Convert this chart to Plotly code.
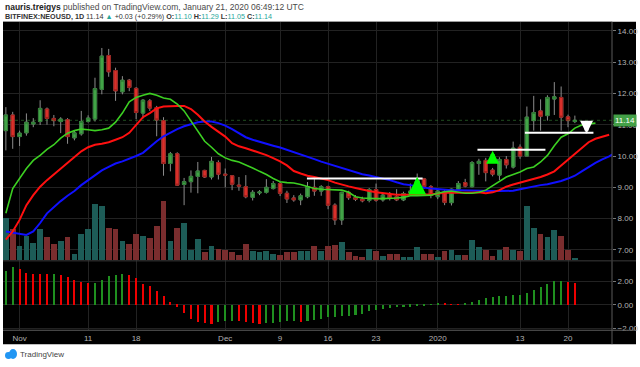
import plotly.graph_objects as go
import pandas as pd

W, H = 640, 367
def px(x): return x / W
def py(y): return 1 - y / H

# ---------------- data ----------------
start = "2019-10-30"
opens = [10.81, 11.31, 10.62, 10.74, 11.02, 11.10, 11.50, 11.20, 11.10, 11.16, 10.58, 10.71, 11.10, 11.18, 12.13,
         13.21, 12.73, 12.05, 12.42, 12.16, 11.37, 11.76, 11.55, 11.13, 9.76, 10.07, 9.09, 9.18, 9.35, 9.54,
         9.33, 9.79, 9.42, 9.37, 9.07, 9.02, 8.68, 8.82, 8.84, 8.96, 9.12, 8.81, 8.66, 8.60, 8.70,
         9.00, 8.88, 9.02, 8.43, 7.96, 8.84, 8.67, 8.62, 8.58, 8.93, 8.60, 8.77, 8.70, 8.60,
         8.83, 8.88, 9.27, 9.02, 8.70, 8.86, 8.51, 8.94, 9.15, 9.02, 9.76, 9.86, 9.55, 9.39, 9.89,
         9.65, 10.28, 10.00, 11.13, 11.44, 11.29, 11.82, 11.87, 11.25, 11.10]
highs = [11.56, 11.41, 10.81, 11.36, 11.21, 11.78, 11.55, 11.31, 11.24, 11.21, 10.81, 11.44, 11.30, 12.50, 13.45,
         13.42, 12.82, 12.55, 12.46, 12.20, 11.82, 11.82, 11.60, 11.24, 10.13, 10.12, 9.30, 9.54, 9.81, 9.56,
         9.97, 9.86, 9.60, 9.39, 9.33, 9.39, 8.91, 8.91, 9.26, 9.20, 9.17, 8.89, 8.75, 8.80, 9.17,
         9.26, 9.07, 9.05, 8.49, 8.86, 8.89, 8.75, 8.70, 8.98, 9.12, 8.82, 8.85, 8.94, 8.86,
         9.12, 9.44, 9.30, 9.07, 8.95, 8.91, 8.96, 9.20, 9.27, 9.84, 9.91, 9.94, 9.62, 9.96, 10.00,
         10.46, 10.37, 11.58, 11.92, 11.81, 11.94, 12.36, 12.22, 11.32, 11.29]
lows = [10.18, 10.23, 10.32, 10.65, 10.92, 10.99, 11.00, 10.95, 10.73, 10.39, 10.50, 10.65, 11.07, 11.10, 11.97,
        12.53, 11.76, 11.97, 12.07, 11.18, 11.20, 11.44, 10.63, 9.37, 9.51, 9.05, 8.43, 8.83, 8.81, 9.30,
        9.25, 9.25, 9.00, 8.91, 8.89, 8.65, 8.58, 8.75, 8.80, 8.93, 8.72, 8.50, 8.54, 8.43, 8.65,
        8.73, 8.73, 8.30, 7.80, 7.80, 8.60, 8.56, 8.52, 8.52, 8.54, 8.54, 8.58, 8.56, 8.56,
        8.75, 8.85, 8.95, 8.65, 8.62, 8.43, 8.42, 8.92, 9.00, 9.00, 9.40, 9.19, 9.35, 9.23, 9.60,
        9.60, 9.91, 10.00, 10.81, 10.81, 11.13, 11.31, 10.81, 10.92, 11.05]
closes = [11.31, 10.62, 10.73, 11.08, 11.08, 11.52, 11.20, 11.13, 11.18, 10.62, 10.74, 11.10, 11.21, 12.15, 13.19,
          12.69, 12.08, 12.42, 12.19, 11.39, 11.78, 11.53, 11.15, 9.76, 10.07, 9.07, 9.18, 9.35, 9.52, 9.33,
          9.83, 9.42, 9.39, 9.10, 9.04, 8.70, 8.84, 8.85, 9.00, 9.12, 8.81, 8.63, 8.60, 8.73, 9.02,
          8.88, 9.02, 8.43, 7.96, 8.84, 8.67, 8.62, 8.57, 8.93, 8.59, 8.75, 8.65, 8.60, 8.80,
          8.88, 9.25, 9.02, 8.75, 8.88, 8.52, 8.94, 9.12, 9.04, 9.79, 9.83, 9.47, 9.42, 9.89, 9.72,
          10.25, 10.00, 11.24, 11.39, 11.27, 11.87, 11.89, 11.24, 11.13, 11.14]
volume = [42.2, 30.8, 13.2, 24.2, 16.5, 30.8, 23.2, 15.8, 19.2, 22.5, 5.5, 25.5, 30.5, 55.8, 54.2,
          32.2, 30.8, 18.8, 15.8, 25.8, 24.2, 21.5, 33.8, 58.8, 18.2, 32.2, 36.5, 9.2, 20.5, 7.2,
          13.2, 10.5, 9.8, 7.2, 4.8, 15.5, 8.8, 7.2, 8.2, 5.5, 4.8, 7.2, 7.5, 8.2, 8.2,
          13.8, 8.2, 13.2, 14.8, 17.5, 7.2, 3.8, 2.5, 10.5, 8.8, 3.2, 5.8, 5.5, 2.5,
          2.2, 12.2, 5.8, 5.8, 2.2, 8.2, 9.2, 4.2, 4.2, 19.5, 12.2, 9.8, 3.8, 9.8, 12.2,
          9.8, 8.8, 53.8, 31.5, 25.8, 23.2, 29.8, 23.8, 9.8, 1.5]
# Awesome oscillator
ao = [2.86, 3.22, 3.05, 2.71, 2.63, 2.62, 2.60, 2.66, 2.52, 2.38, 2.10, 1.96, 1.87, 1.90, 2.10,
      2.44, 2.52, 2.66, 2.55, 2.27, 1.79, 1.60, 1.23, 0.76, 0.28, -0.17, -0.73, -1.21, -1.49, -1.57,
      -1.63, -1.43, -1.40, -1.35, -1.40, -1.49, -1.57, -1.63, -1.57, -1.54, -1.49, -1.40, -1.38, -1.43, -1.35,
      -1.26, -1.21, -1.07, -1.00, -0.98, -0.92, -0.87, -0.78, -0.56, -0.42, -0.36, -0.28, -0.22, -0.20,
      -0.17, -0.08, -0.04, 0.03, 0.14, 0.12, 0.06, 0.05, 0.08, 0.25, 0.42, 0.61, 0.67, 0.73, 0.79,
      0.81, 0.87, 1.03, 1.31, 1.51, 1.79, 2.02, 2.07, 1.93, 1.87]
ao_rising = [1, 1, 0, 0, 0, 0, 0, 1, 0, 0, 0, 0, 0, 1, 1,
             1, 1, 1, 0, 0, 0, 0, 0, 0, 0, 0, 0, 0, 0, 0,
             0, 1, 1, 1, 0, 0, 0, 0, 1, 1, 1, 1, 1, 0, 1,
             1, 1, 1, 1, 1, 1, 1, 1, 1, 1, 1, 1, 1, 1,
             1, 1, 1, 1, 1, 0, 0, 0, 1, 1, 1, 1, 1, 1, 1,
             1, 1, 1, 1, 1, 1, 1, 1, 0, 0]
# Alligator lines (shifted forward past the last candle)
lips = [8.17, 8.96, 9.28, 9.60, 9.86, 10.02, 10.21, 10.36, 10.57, 10.73, 10.81, 10.86, 10.84, 10.81, 10.84,
        10.89, 11.08, 11.37, 11.73, 11.87, 11.94, 12.00, 11.94, 11.85, 11.81, 11.66, 11.44, 11.13, 10.82, 10.47,
        10.28, 10.07, 9.94, 9.86, 9.81, 9.72, 9.62, 9.51, 9.41, 9.28, 9.18, 9.15, 9.14, 9.09, 9.02,
        8.96, 8.94, 8.93, 8.93, 8.91, 8.84, 8.70, 8.66, 8.64, 8.64, 8.64, 8.64, 8.66, 8.68,
        8.73, 8.73, 8.73, 8.75, 8.81, 8.86, 8.88, 8.84, 8.81, 8.81, 8.84, 8.91, 9.05, 9.20, 9.33,
        9.41, 9.49, 9.60, 9.65, 9.81, 10.02, 10.33, 10.60, 10.71, 10.89, 10.99, 11.02, 11.05]
teeth = [7.33, 7.59, 7.96, 8.43, 8.75, 9.02, 9.23, 9.41, 9.60, 9.76, 9.97, 10.15, 10.28, 10.36, 10.39,
         10.44, 10.52, 10.60, 10.74, 10.99, 11.24, 11.37, 11.52, 11.58, 11.60, 11.60, 11.60, 11.50, 11.32,
         11.10, 10.93, 10.77, 10.62, 10.41, 10.31, 10.25, 10.18, 10.10, 10.03, 9.93, 9.83, 9.70, 9.52, 9.44,
         9.37, 9.33, 9.28, 9.23, 9.15, 9.08, 9.03, 8.98, 8.92, 8.88, 8.84, 8.81, 8.78, 8.76, 8.76,
         8.77, 8.77, 8.77, 8.77, 8.81, 8.83, 8.83, 8.84, 8.83, 8.83, 8.84, 8.81, 8.84, 8.91, 9.02,
         9.09, 9.15, 9.20, 9.25, 9.33, 9.41, 9.51, 9.70, 9.89, 10.07, 10.25, 10.44, 10.55, 10.62, 10.68]
jaw = [7.59, 7.56, 7.51, 7.48, 7.59, 7.86, 8.17, 8.38, 8.56, 8.73, 8.88, 9.07, 9.23, 9.39, 9.54,
       9.65, 9.76, 9.83, 9.91, 10.00, 10.10, 10.30, 10.47, 10.63, 10.75, 10.86, 10.95, 11.02, 11.08,
       11.10, 11.10, 11.05, 10.97, 10.86, 10.74, 10.60, 10.52, 10.45, 10.39, 10.33, 10.27, 10.20, 10.12, 10.06,
       9.98, 9.90, 9.82, 9.75, 9.68, 9.62, 9.54, 9.47, 9.42, 9.38, 9.33, 9.29, 9.23, 9.16, 9.10,
       9.07, 9.02, 8.99, 8.96, 8.94, 8.93, 8.91, 8.91, 8.90, 8.89, 8.88, 8.88, 8.88, 8.88, 8.88,
       8.89, 8.94, 8.99, 9.02, 9.07, 9.10, 9.14, 9.20, 9.28, 9.37, 9.51, 9.65, 9.78, 9.89, 9.99, 10.12]

price_ticks = [7, 8, 9, 10, 11, 12, 13, 14]
ao_ticks = [-2, 0, 2]
date_ticks = ["2019-11-01", "2019-11-11", "2019-11-18", "2019-12-01", "2019-12-09",
              "2019-12-16", "2019-12-23", "2020-01-01", "2020-01-13", "2020-01-20"]
date_labels = ["Nov", "11", "18", "Dec", "9", "16", "23", "2020", "13", "20"]

# drawn levels and signal arrows (from the picture)
level_start = ["2019-12-12 22:00", "2020-01-06 19:00", "2020-01-13 17:00"]
level_end = ["2019-12-29 19:00", "2020-01-16 17:00", "2020-01-23 17:00"]
level_price = [9.28, 10.20, 10.74]
signal_date = ["2019-12-29", "2020-01-09", "2020-01-22 17:00"]
signal_price = [9.34, 10.17, 10.71]
signal_dir = ["up", "up", "down"]
signal_len = [19, 12, 12]
signal_width = [5.5, 4, 4]
signal_color = ["#00ff00", "#00ff00", "#ffffff"]

dates = pd.date_range(start, periods=len(closes), freq="D")
for arr in (opens, highs, lows, volume, ao, ao_rising):
    assert len(arr) == len(closes), len(arr)

# ---------------- style ----------------
G_FILL, G_EDGE = "#42a447", "#2f7d35"
R_FILL, R_EDGE = "#d9302b", "#9c1f1b"
WICK = "#8c8c8c"
GRID = "#222222"
AXIS_TXT = "#b4b4b4"
FONT = "Liberation Sans, Arial, sans-serif"

fig = go.Figure()

up = [c >= o for o, c in zip(opens, closes)]
fig.add_trace(go.Bar(x=dates, y=volume, width=0.84 * 86400000,
                     marker=dict(color=["#1d5c57" if u else "#7a2d2e" for u in up], line_width=0),
                     xaxis="x", yaxis="y", showlegend=False))

for arr, color, w in ((jaw, "#1010ff", 2), (teeth, "#ff1010", 2), (lips, "#3ccf22", 1.6)):
    fig.add_trace(go.Scatter(x=pd.date_range(start, periods=len(arr), freq="D"), y=arr, mode="lines",
                             line=dict(color=color, width=w), xaxis="x", yaxis="y2", showlegend=False))

fig.add_trace(go.Candlestick(x=dates, open=opens, high=highs, low=lows, close=closes,
                             increasing=dict(line=dict(color=WICK, width=1), fillcolor=G_FILL),
                             decreasing=dict(line=dict(color=WICK, width=1), fillcolor=R_FILL),
                             whiskerwidth=0, xaxis="x", yaxis="y2", showlegend=False))
body_hi = [max(o, c) for o, c in zip(opens, closes)]
body_lo = [min(o, c) for o, c in zip(opens, closes)]
fig.add_trace(go.Candlestick(x=dates, open=opens, high=body_hi, low=body_lo, close=closes,
                             increasing=dict(line=dict(color=G_EDGE, width=1), fillcolor=G_FILL),
                             decreasing=dict(line=dict(color=R_EDGE, width=1), fillcolor=R_FILL),
                             whiskerwidth=0, xaxis="x", yaxis="y2", showlegend=False))

fig.add_trace(go.Bar(x=dates, y=ao, width=0.3 * 86400000,
                     marker=dict(color=["#1f8f1f" if r else "#ee0000" for r in ao_rising], line_width=0),
                     xaxis="x2", yaxis="y3", showlegend=False))

x_range = ["2019-10-29 14:00", "2020-01-26 10:00"]
main_dom = [py(263), py(22)]
ao_dom = [py(333), py(263)]
xdom = [px(3), px(612)]

common_x = dict(type="date", range=x_range, domain=xdom, tickvals=date_ticks, ticktext=date_labels,
                showgrid=True, gridcolor=GRID, gridwidth=1, zeroline=False, showline=False,
                tickfont=dict(family=FONT, size=8, color=AXIS_TXT), fixedrange=True)

fig.update_layout(
    width=W, height=H, margin=dict(l=0, r=0, t=0, b=0),
    paper_bgcolor="white", plot_bgcolor="black", bargap=0, barmode="overlay",
    xaxis=dict(common_x, anchor="y", showticklabels=False, rangeslider=dict(visible=False)),
    xaxis2=dict(common_x, anchor="y3", matches="x", showticklabels=True, ticks="", ticklabelstandoff=2),
    yaxis=dict(domain=main_dom, range=[-1.5, 239.5], visible=False, fixedrange=True),
    yaxis2=dict(overlaying="y", anchor="x", side="right", range=[6.652, 14.285],
                tickvals=price_ticks, ticktext=["%.2f" % v for v in price_ticks],
                showgrid=True, gridcolor=GRID, zeroline=False, ticks="outside", ticklen=3,
                tickcolor="#777777", tickfont=dict(family=FONT, size=8, color=AXIS_TXT)),
    yaxis3=dict(domain=ao_dom, anchor="x2", side="right", range=[-2.18, 3.75],
                tickvals=ao_ticks, ticktext=["−2.00", "0.00", "2.00"],
                showgrid=True, gridcolor=GRID, zeroline=False, ticks="outside", ticklen=3,
                tickcolor="#777777", tickfont=dict(family=FONT, size=8, color=AXIS_TXT)),
    showlegend=False,
)

shapes = [
    dict(type="rect", xref="paper", yref="paper", x0=px(3), x1=px(636), y0=py(347), y1=py(22),
         fillcolor="black", line_width=0, layer="below"),
    dict(type="line", xref="paper", yref="paper", x0=px(612), x1=px(612), y0=py(347), y1=py(22),
         line=dict(color="#5a5a5a", width=1)),
    dict(type="line", xref="paper", yref="paper", x0=px(3), x1=px(636), y0=py(263), y1=py(263),
         line=dict(color="#3a3a3a", width=1)),
    dict(type="line", xref="paper", yref="paper", x0=px(3), x1=px(636), y0=py(333), y1=py(333),
         line=dict(color="#5a5a5a", width=1)),
    dict(type="line", xref="paper", yref="y2", x0=px(3), x1=px(612), y0=closes[-1], y1=closes[-1],
         line=dict(color="rgba(70,170,70,0.45)", width=1, dash="dot")),
]
for s, e, p in zip(level_start, level_end, level_price):
    shapes.append(dict(type="line", xref="x", yref="y2", x0=s, x1=e, y0=p, y1=p,
                       line=dict(color="white", width=2)))
# TradingView logo cloud
shapes += [
    dict(type="circle", xref="paper", yref="paper", x0=px(5), x1=px(12), y0=py(362), y1=py(355),
         fillcolor="#2196f3", line_width=0),
    dict(type="circle", xref="paper", yref="paper", x0=px(9), x1=px(17), y0=py(362), y1=py(352),
         fillcolor="#2196f3", line_width=0),
]
fig.update_layout(shapes=shapes)

ann = []
for d, p, k, L, aw, c in zip(signal_date, signal_price, signal_dir, signal_len, signal_width, signal_color):
    ann.append(dict(x=d, y=p, xref="x", yref="y2", text="", showarrow=True, arrowhead=2,
                    arrowsize=0.65, arrowwidth=aw, arrowcolor=c,
                    ax=0, ay=L if k == "up" else -L))
ann.append(dict(xref="paper", yref="y2", x=px(612.5), y=closes[-1], xanchor="left", yanchor="middle",
                text="%.2f" % closes[-1], showarrow=False, bgcolor="#43a047", borderpad=1,
                font=dict(family=FONT, size=8, color="white")))
ann.append(dict(xref="paper", yref="paper", x=px(3), y=py(7.5), xanchor="left", yanchor="middle",
                showarrow=False, font=dict(family=FONT, size=8.5, color="#4a4a4a"),
                text="<b><span style='color:#222'>nauris.treigys</span></b> published on TradingView.com, "
                     "January 21, 2020 06:49:12 UTC"))
tc = "#26a69a"
ann.append(dict(xref="paper", yref="paper", x=px(3), y=py(16.5), xanchor="left", yanchor="middle",
                showarrow=False, font=dict(family=FONT, size=7.2, color="#333"),
                text=("<b>BITFINEX:NEOUSD, 1D</b> %.2f <span style='color:%s'>▲</span> +0.03 (+0.29%%) "
                      "<b>O:</b><span style='color:%s'>%.2f</span> <b>H:</b><span style='color:%s'>%.2f</span> "
                      "<b>L:</b><span style='color:%s'>%.2f</span> <b>C:</b><span style='color:%s'>%.2f</span>")
                     % (closes[-1], tc, tc, opens[-1], tc, highs[-1], tc, lows[-1], tc, closes[-1])))
ann.append(dict(xref="paper", yref="paper", x=px(18), y=py(357.5), xanchor="left", yanchor="middle",
                showarrow=False, text="TradingView", font=dict(family=FONT, size=8, color="#444")))
fig.update_layout(annotations=ann)

fig.write_html("out.html", config={"displayModeBar": False},
               post_script="document.body.style.margin='0px';document.body.style.overflow='hidden';")
